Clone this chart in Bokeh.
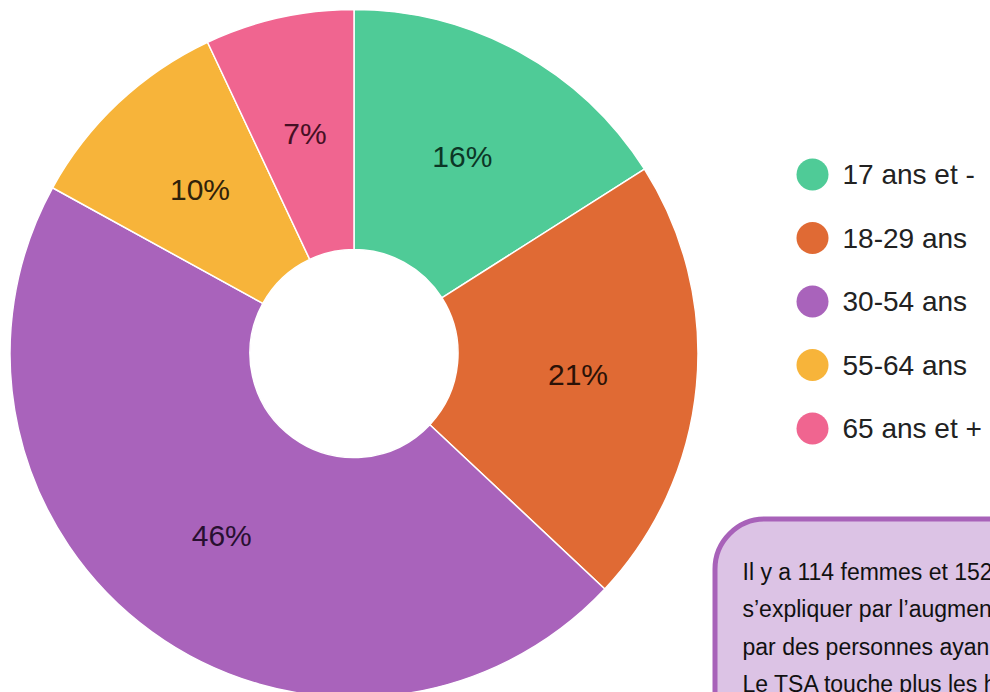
import numpy as np
from bokeh.plotting import figure
from bokeh.models import Range1d, BoxAnnotation, ColumnDataSource
from bokeh.core.properties import value
from bokeh.embed import file_html
from bokeh.resources import INLINE

# ---- data ----
categories = ["17 ans et -", "18-29 ans", "30-54 ans", "55-64 ans", "65 ans et +"]
shares = [16, 21, 46, 10, 7]
slice_colors = ["#4fcb97", "#e06a34", "#a963bb", "#f7b43a", "#f06590"]
label_colors = ["#0c3626", "#2b1207", "#281030", "#30220a", "#461024"]
note_lines = [
    "Il y a 114 femmes et 152",
    "s\u2019expliquer par l\u2019augmen",
    "par des personnes ayan",
    "Le TSA touche plus les h",
]

FONT = "Liberation Sans"

# page pixel coordinates: x to the right, y downward (negated for bokeh)
p = figure(width=990, height=692, output_backend="svg", toolbar_location=None,
           x_range=Range1d(0, 990), y_range=Range1d(-692, 0),
           min_border=0, x_axis_location=None, y_axis_location=None)
p.outline_line_color = None
p.grid.visible = False
p.background_fill_color = "white"
p.border_fill_color = "white"

# ---- donut ----
cx, cy = 353.5, -353.0
r_in, r_out = 104, 344
vals = np.array(shares, dtype=float)
frac = vals / vals.sum()
cum = np.concatenate([[0], np.cumsum(frac)])
start = np.pi / 2 - cum[:-1] * 2 * np.pi
end = np.pi / 2 - cum[1:] * 2 * np.pi
mid = (start + end) / 2

src = ColumnDataSource(dict(start=start, end=end, color=slice_colors))
p.annular_wedge(x=cx, y=cy, inner_radius=r_in, outer_radius=r_out,
                start_angle="start", end_angle="end", direction="clock",
                fill_color="color", line_color="white", line_width=1.5,
                source=src)

r_lab = (r_in + r_out) / 2 + 1
lab_src = ColumnDataSource(dict(
    x=cx + r_lab * np.cos(mid), y=cy + r_lab * np.sin(mid),
    text=[f"{v}%" for v in shares], color=label_colors))
p.text(x="x", y="y", text="text", source=lab_src, text_color="color",
       text_font=value(FONT), text_font_size="30px",
       text_align="center", text_baseline="middle")

# ---- legend ----
leg_x = 812
leg_y = -(174 + 63.5 * np.arange(len(categories)))
p.scatter(x=[leg_x] * len(categories), y=leg_y, size=32, marker="circle",
          fill_color=slice_colors, line_color=None)
p.text(x=[leg_x + 30] * len(categories), y=leg_y, text=categories,
       text_color="#222222", text_font=value(FONT), text_font_size="28px",
       text_align="left", text_baseline="middle")

# ---- note box ----
box = BoxAnnotation(left=714.5, right=1060, top=-518.5, bottom=-800,
                    border_radius=50, fill_color="#dcc3e5", fill_alpha=1.0,
                    line_color="#a862b9", line_alpha=1.0, line_width=5,
                    level="underlay")
p.add_layout(box)
note_y = -(571 + 37.5 * np.arange(len(note_lines)))
p.text(x=[742] * len(note_lines), y=note_y, text=note_lines,
       text_color="#111111", text_font=value(FONT), text_font_size="23px",
       text_align="left", text_baseline="alphabetic")

open("out.html", "w").write(file_html(p, INLINE))
